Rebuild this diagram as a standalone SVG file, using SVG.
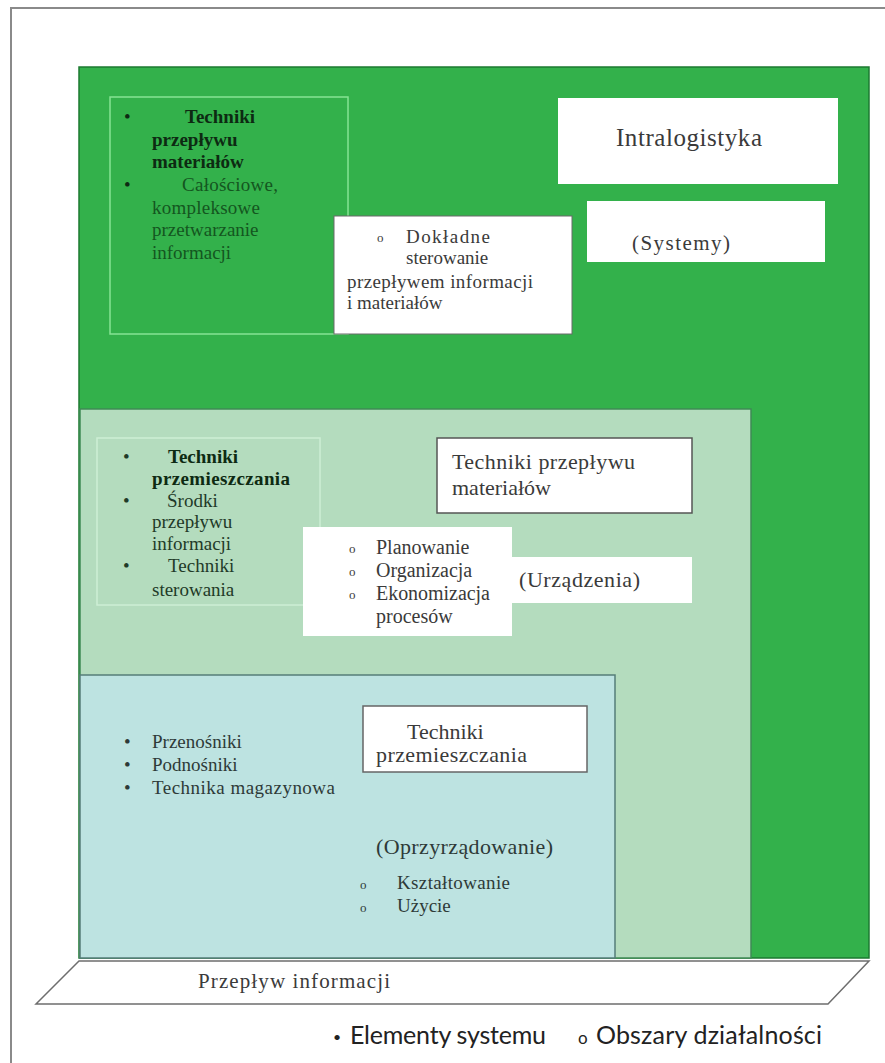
<svg xmlns="http://www.w3.org/2000/svg" width="885" height="1063" viewBox="0 0 885 1063">
<style>
.s{font-family:"Liberation Serif","Times New Roman",serif;}
.t19{font-size:19px;}
.t20{font-size:20px;}
.t22{font-size:22px;}
.b{font-weight:bold;}
.k1{fill:#0d2a12;}
.g1{fill:#14561f;}
.k2{fill:#1f3a28;}
.k3{fill:#2e3a38;}
.gr{fill:#3a3a3a;}
.box{fill:#ffffff;}
.leg{font-family:Lato,"Open Sans",sans-serif;font-size:25px;fill:#222;}
</style>
<rect x="11" y="8" width="900" height="1100" fill="#ffffff" stroke="#8a8a8a" stroke-width="2"/>

<g id="intralogistyka-area">
  <rect x="79" y="67" width="790" height="891" fill="#33b14b" stroke="#1c7a30" stroke-width="1.5"/>
</g>
<g id="urzadzenia-area">
  <rect x="80" y="409" width="671" height="549" fill="#b4dcbe" stroke="#3f8a55" stroke-width="1.5"/>
</g>
<g id="oprzyrzadowanie-area">
  <rect x="80" y="675" width="535" height="283" fill="#bde3e1" stroke="#557d78" stroke-width="1.5"/>
</g>

<g id="list-systemy">
  <rect x="110" y="97" width="238" height="237" fill="none" stroke="#86e394" stroke-width="1.5"/>
  <g class="s t19">
    <text x="124" y="123" class="k1">•</text>
    <text x="185" y="123" class="b k1">Techniki</text>
    <text x="152" y="146" class="b k1">przepływu</text>
    <text x="152" y="168" class="b k1">materiałów</text>
    <text x="124" y="191" class="k1">•</text>
    <text x="182" y="191" class="g1" textLength="96">Całościowe,</text>
    <text x="152" y="214" class="g1" textLength="108">kompleksowe</text>
    <text x="152" y="236" class="g1">przetwarzanie</text>
    <text x="152" y="259" class="g1">informacji</text>
  </g>
</g>

<g id="node-intralogistyka">
  <rect x="558" y="98" width="280" height="86" class="box"/>
  <text x="616" y="146" class="s gr" font-size="25" textLength="146">Intralogistyka</text>
</g>

<g id="node-systemy">
  <rect x="587" y="201" width="238" height="61" class="box"/>
  <text x="632" y="250" class="s gr" font-size="21" textLength="98">(Systemy)</text>
</g>

<g id="node-dokladne">
  <rect x="334" y="216" width="238" height="118" class="box" stroke="#6a6a6a" stroke-width="1"/>
  <g class="s t19 gr">
    <text x="377" y="242" font-size="13">o</text>
    <text x="406" y="243" textLength="84">Dokładne</text>
    <text x="406" y="264">sterowanie</text>
    <text x="347" y="288" textLength="186">przepływem informacji</text>
    <text x="347" y="309">i materiałów</text>
  </g>
</g>

<g id="list-urzadzenia">
  <rect x="97" y="438" width="223" height="167" fill="none" stroke="#cdeed5" stroke-width="1.5"/>
  <g class="s t19">
    <text x="123" y="463" class="k2">•</text>
    <text x="168" y="463" class="b k1">Techniki</text>
    <text x="152" y="485" class="b k1" textLength="138">przemieszczania</text>
    <text x="123" y="507" class="k2">•</text>
    <text x="167" y="507" class="k2">Środki</text>
    <text x="152" y="528" class="k2">przepływu</text>
    <text x="152" y="550" class="k2">informacji</text>
    <text x="123" y="572" class="k2">•</text>
    <text x="168" y="572" class="k2">Techniki</text>
    <text x="152" y="596" class="k2">sterowania</text>
  </g>
</g>

<g id="node-techniki-przeplywu">
  <rect x="437" y="438" width="255" height="75" class="box" stroke="#555" stroke-width="1.5"/>
  <text x="452" y="469" class="s t22 gr" textLength="183">Techniki przepływu</text>
  <text x="452" y="495" class="s t22 gr">materiałów</text>
</g>

<g id="node-planowanie">
  <rect x="303" y="527" width="209" height="109" class="box"/>
  <g class="s t20 gr">
    <text x="349" y="553" font-size="13">o</text>
    <text x="376" y="554">Planowanie</text>
    <text x="349" y="576" font-size="13">o</text>
    <text x="376" y="577">Organizacja</text>
    <text x="349" y="599" font-size="13">o</text>
    <text x="376" y="600" textLength="114">Ekonomizacja</text>
    <text x="376" y="623">procesów</text>
  </g>
</g>

<g id="node-urzadzenia">
  <rect x="512" y="557" width="180" height="46" class="box"/>
  <text x="519" y="587" class="s t22 gr" textLength="121">(Urządzenia)</text>
</g>

<g id="list-oprzyrzadowanie">
  <g class="s t19 k3">
    <text x="124" y="748">•</text>
    <text x="152" y="748">Przenośniki</text>
    <text x="124" y="771">•</text>
    <text x="152" y="771">Podnośniki</text>
    <text x="124" y="794">•</text>
    <text x="152" y="794" textLength="183">Technika magazynowa</text>
  </g>
</g>

<g id="node-techniki-przemieszczania">
  <rect x="363" y="706" width="224" height="66" class="box" stroke="#666" stroke-width="1.5"/>
  <text x="407" y="739" class="s t22 gr">Techniki</text>
  <text x="376" y="762" class="s t22 gr" textLength="151">przemieszczania</text>
</g>

<g id="node-oprzyrzadowanie">
  <text x="376" y="854" class="s t22 k3" textLength="177">(Oprzyrządowanie)</text>
  <g class="s t19 k3">
    <text x="360" y="889" font-size="13">o</text>
    <text x="397" y="889" textLength="113">Kształtowanie</text>
    <text x="360" y="912" font-size="13">o</text>
    <text x="397" y="912">Użycie</text>
  </g>
</g>

<g id="node-przeplyw-informacji">
  <polygon points="79,961 869,961 828,1004 36,1004" fill="#ffffff" stroke="#6e6e6e" stroke-width="1.5"/>
  <text x="198" y="988" class="s gr" font-size="21" textLength="192">Przepływ  informacji</text>
</g>

<g id="legend">
  <text x="333" y="1042" style="font-size:14px" class="leg">•</text>
  <text x="350" y="1044" class="leg" textLength="196">Elementy systemu</text>
  <text x="578" y="1044" style="font-size:17px" class="leg">o</text>
  <text x="596" y="1044" class="leg" textLength="226">Obszary działalności</text>
</g>

<g id="connectors"/>
</svg>
